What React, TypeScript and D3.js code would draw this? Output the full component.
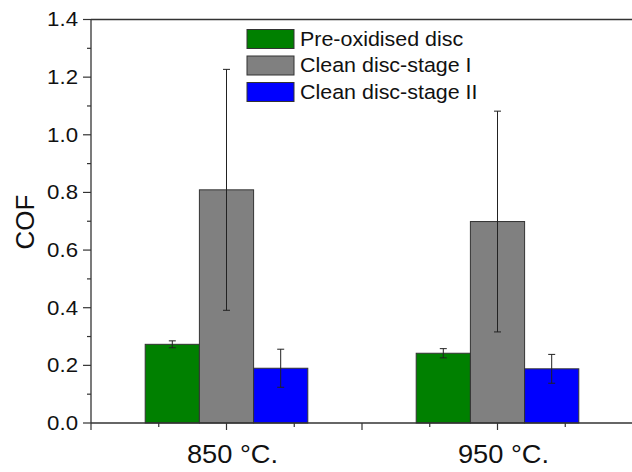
import React from "react";
import * as d3 from "d3";

const categories = ["850 °C.", "950 °C."];
const seriesNames = ["Pre-oxidised disc", "Clean disc-stage I", "Clean disc-stage II"];
const seriesColors = ["#008000", "#808080", "#0000ff"];
const preOxidised = [0.273, 0.242];
const preOxidisedErr = [0.012, 0.016];
const cleanStage1 = [0.809, 0.699];
const cleanStage1Err = [0.418, 0.383];
const cleanStage2 = [0.19, 0.188];
const cleanStage2Err = [0.066, 0.05];
const yTicks = [0, 0.2, 0.4, 0.6, 0.8, 1.0, 1.2, 1.4];

const W = 632;
const H = 472;
const FONT = "Arial, 'Liberation Sans', sans-serif";

export default function App() {
  const x = d3.scaleLinear().domain([0.5, 2.5]).range([91, 633]);
  const y = d3.scaleLinear().domain([0, 1.4]).range([423, 19.5]);
  const values = [preOxidised, cleanStage1, cleanStage2];
  const errs = [preOxidisedErr, cleanStage1Err, cleanStage2Err];
  const barW = 0.2;
  const offsets = [-0.2, 0, 0.2];
  const xMajor = d3.range(0.5, 2.51, 0.5);
  const xMinor = d3.range(0.75, 2.5, 0.5);
  const yMinor = d3.range(0.1, 1.4, 0.2);
  const axisColor = "#333";

  return (
    <svg
      width={W}
      height={H}
      style={{ position: "absolute", left: 0, top: 0, background: "#fff" }}
      fontFamily={FONT}
    >
      <rect width={W} height={H} fill="#fff" />
      {/* bars */}
      {values.map((vals, si) =>
        vals.map((v, ci) => {
          const cx = ci + 1 + offsets[si];
          const x0 = x(cx - barW / 2);
          const x1 = x(cx + barW / 2);
          return (
            <rect
              key={`b${si}-${ci}`}
              x={x0}
              y={y(v)}
              width={x1 - x0}
              height={y(0) - y(v)}
              fill={seriesColors[si]}
              stroke="#333"
              strokeWidth={1}
            />
          );
        })
      )}
      {/* error bars */}
      {values.map((vals, si) =>
        vals.map((v, ci) => {
          const cx = x(ci + 1 + offsets[si]);
          const e = errs[si][ci];
          const yt = y(v + e);
          const yb = y(v - e);
          return (
            <g key={`e${si}-${ci}`} stroke="#222" strokeWidth={1}>
              <line x1={cx} x2={cx} y1={yt} y2={yb} />
              <line x1={cx - 3.5} x2={cx + 3.5} y1={yt} y2={yt} />
              <line x1={cx - 3.5} x2={cx + 3.5} y1={yb} y2={yb} />
            </g>
          );
        })
      )}
      {/* axes */}
      <line x1={x(0.5)} x2={W} y1={y(0)} y2={y(0)} stroke={axisColor} strokeWidth={1.3} />
      <line x1={x(0.5)} x2={W} y1={y(1.4)} y2={y(1.4)} stroke={axisColor} strokeWidth={1.3} />
      <line x1={x(0.5)} x2={x(0.5)} y1={y(0)} y2={y(1.4)} stroke={axisColor} strokeWidth={1.3} />
      {xMajor.map((t) => (
        <line key={`xm${t}`} x1={x(t)} x2={x(t)} y1={y(0)} y2={y(0) + 7} stroke={axisColor} strokeWidth={1.2} />
      ))}
      {xMinor.map((t) => (
        <line key={`xn${t}`} x1={x(t)} x2={x(t)} y1={y(0)} y2={y(0) + 4} stroke={axisColor} strokeWidth={1.2} />
      ))}
      {yTicks.map((t) => (
        <g key={`y${t}`}>
          <line x1={x(0.5) - 8} x2={x(0.5)} y1={y(t)} y2={y(t)} stroke={axisColor} strokeWidth={1.2} />
          <text
            transform={`translate(78, ${y(t)}) scale(1.14, 1)`}
            dy="0.35em"
            textAnchor="end"
            fontSize={19.5}
            fill="#111"
          >
            {t.toFixed(1)}
          </text>
        </g>
      ))}
      {yMinor.map((t) => (
        <line key={`yn${t}`} x1={x(0.5) - 4} x2={x(0.5)} y1={y(t)} y2={y(t)} stroke={axisColor} strokeWidth={1.2} />
      ))}
      {categories.map((c, i) => (
        <text
          key={c}
          transform={`translate(${x(i + 1) + 6}, 463) scale(1.07, 1)`}
          textAnchor="middle"
          fontSize={25.5}
          fill="#111"
        >
          {c}
        </text>
      ))}
      <text
        transform={`translate(34, 222) rotate(-90)`}
        textAnchor="middle"
        fontSize={26}
        fill="#111"
      >
        COF
      </text>
      {/* legend */}
      {seriesNames.map((n, i) => (
        <g key={n} transform={`translate(247, ${29.5 + i * 26.5})`}>
          <rect x={0} y={0} width={47} height={19} fill={seriesColors[i]} stroke="#333" strokeWidth={1} />
          <text transform="translate(53, 16.2) scale(1.1, 1)" fontSize={19.5} fill="#111">
            {n}
          </text>
        </g>
      ))}
    </svg>
  );
}
